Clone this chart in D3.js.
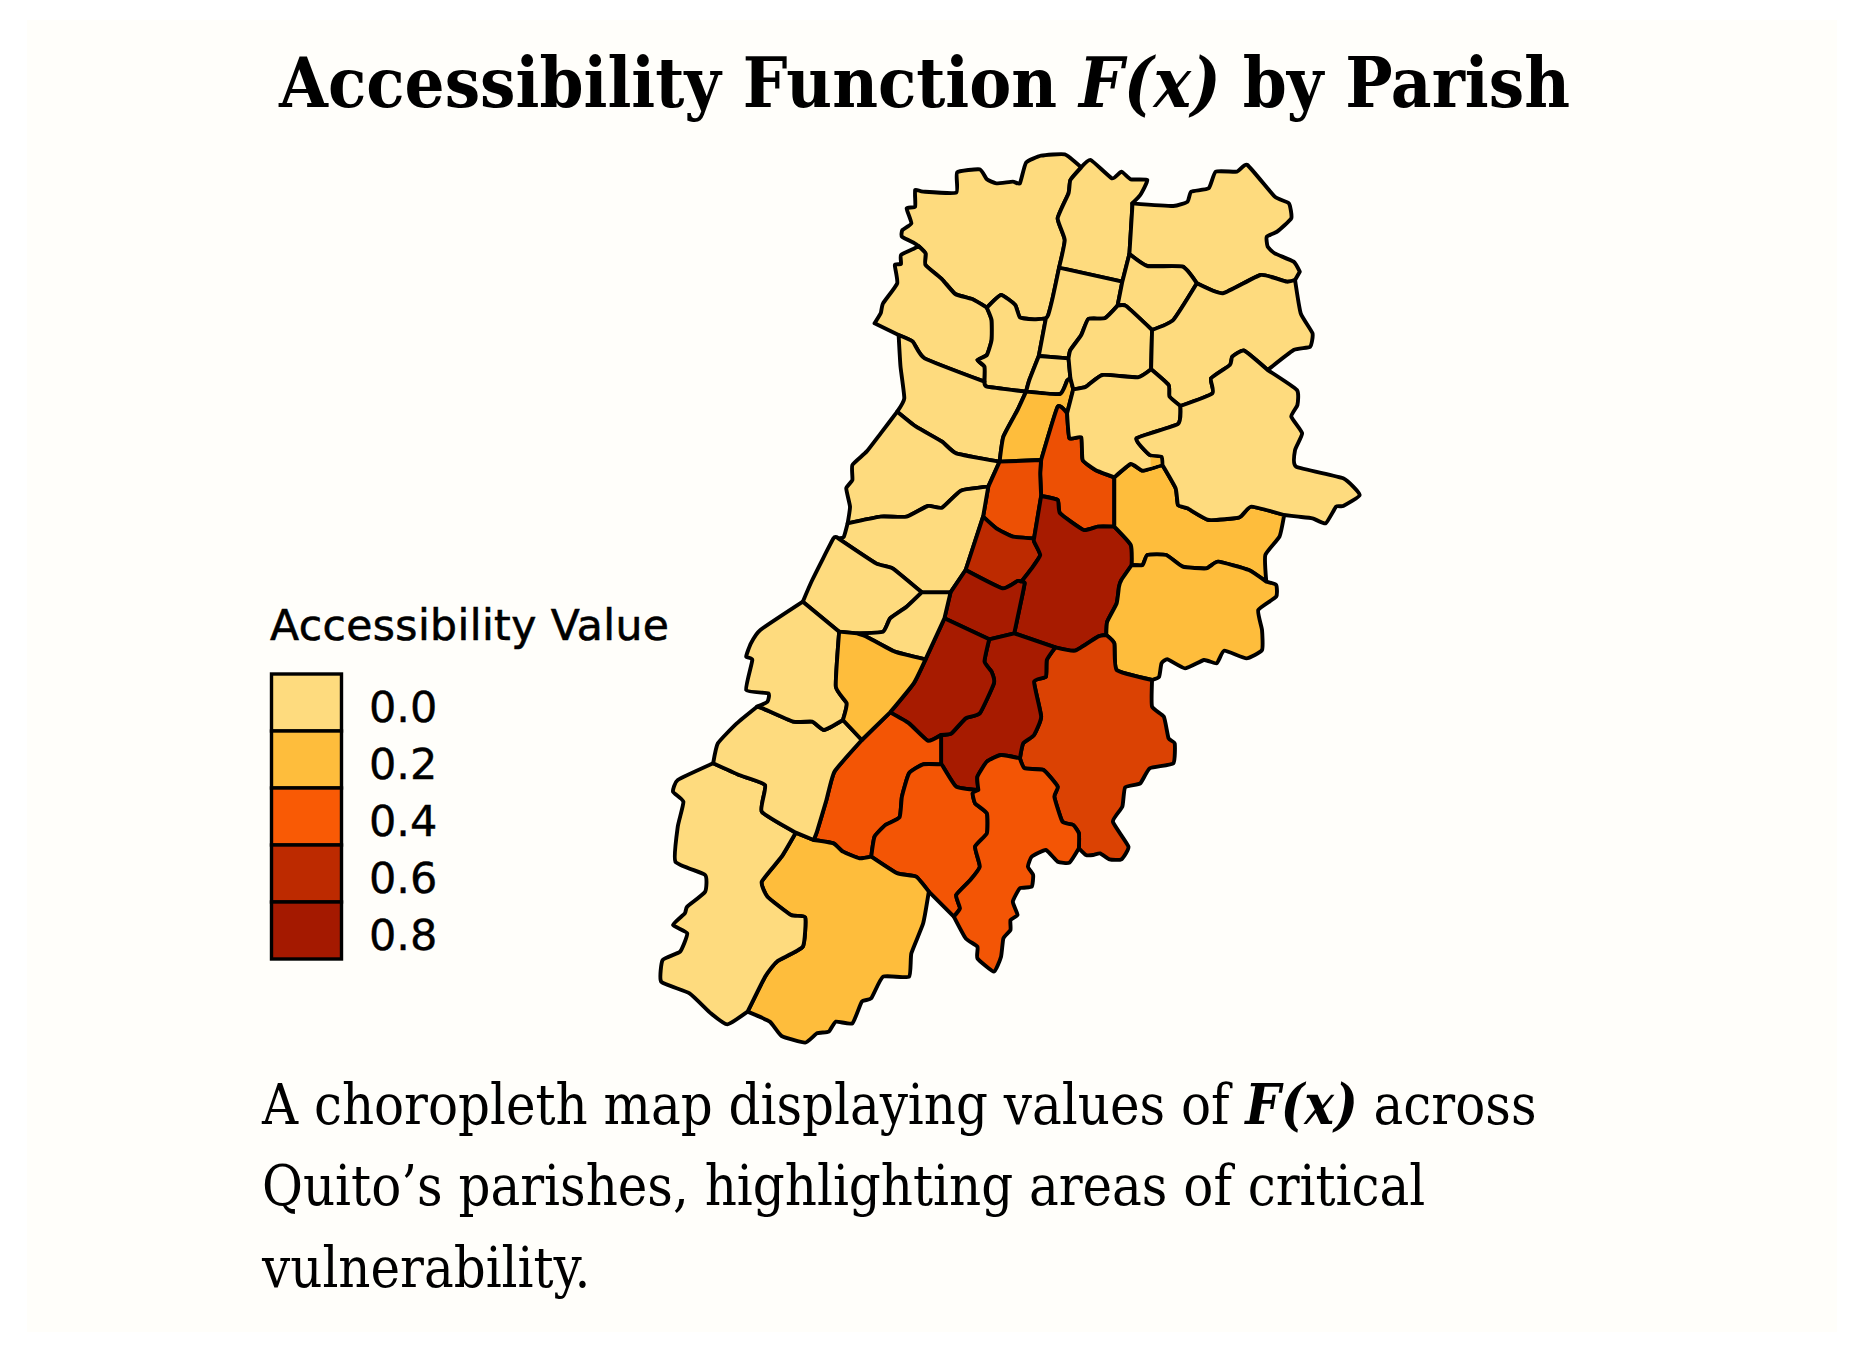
<!DOCTYPE html>
<html>
  <head>
    <meta charset="UTF-8" />
    <style>
      html, body { margin: 0; padding: 0; background: #ffffff; }
      svg { display: block; }
      .title { font-family: "DejaVu Serif Condensed", "DejaVu Serif"; font-weight: 700; font-size: 70px; }
      .note { font-family: "DejaVu Serif Condensed", "DejaVu Serif"; font-size: 55.5px; }
      .legend-title { font-family: "DejaVu Sans"; font-size: 42.5px; letter-spacing: 0.4px; stroke: #000; stroke-width: 0.6px; }
      .legend-label { font-family: "DejaVu Sans"; font-size: 43px; stroke: #000; stroke-width: 0.4px; }
    </style>
  </head>
  <body>
    <svg></svg>
    <script src="https://d3js.org/d3.v7.min.js"></script>
    <script>
      const width = 1866, height = 1360;

      const legendValues = [0, 0.2, 0.4, 0.6, 0.8];
      const legendLabels = ["0.0", "0.2", "0.4", "0.6", "0.8"];
      const legendColors = ["#fedb7e", "#febd3c", "#f95a05", "#bd2a00", "#a41900"];

      // parish boundaries, in map units, shared between neighbouring parishes
      const edges = {
        p1_top: [[590,318],[582,310],[555,290],[556,270],[575,250],[565,205],[583,200],[583,150],[600,155],[670,158],[672,97],[720,88],[735,118],[755,130],[790,125],[805,130],[818,68],[850,47],[900,43],[935,82]],
        p1_p3: [[935,82],[912,120],[908,160],[885,235],[900,300],[888,383]],
        p1_p6: [[888,383],[875,470],[865,525],[860,535]],
        p1_p4: [[860,535],[835,538],[805,532],[795,495],[765,465],[735,503]],
        p1_p2: [[735,503],[705,478],[668,462],[640,418],[605,375],[605,340],[590,318]],
        p2_west: [[590,318],[582,325],[553,345],[553,372],[540,375],[545,430],[515,490],[510,520],[497,550]],
        p2_free: [[497,550],[548,585]],
        p2_p5: [[548,585],[578,605],[603,655],[730,725]],
        p2_p4: [[730,725],[730,680],[715,660],[735,645],[745,600],[745,540],[735,503]],
        p4_p6: [[860,535],[845,648]],
        p4_p7: [[845,648],[825,720],[818,755]],
        p4_p5: [[818,755],[735,740],[730,725]],
        p3_top: [[935,82],[955,60],[1000,115],[1020,95],[1040,118],[1075,120],[1060,165],[1043,190]],
        p3_p30: [[1043,190],[1043,205],[1037,342]],
        p3_p31: [[1037,342],[1022,425]],
        p3_p6: [[1022,425],[888,383]],
        p6_p31: [[1022,425],[1012,497]],
        p6_p32: [[1012,497],[985,535],[950,537],[935,585],[912,630],[908,655]],
        p6_p7: [[908,655],[845,648]],
        p7_p32: [[908,655],[912,715]],
        p7_p8: [[912,715],[905,722],[890,762],[818,755]],
        p8_p32: [[912,715],[918,748]],
        p8_p34: [[918,748],[905,820]],
        p8_p9: [[905,820],[885,800],[850,960]],
        p8_p10: [[850,960],[762,965]],
        p8_p5: [[762,965],[770,890],[800,810],[818,755]],
        p5_west: [[548,585],[552,680],[560,775],[545,815]],
        p5_p28: [[545,815],[585,860],[640,905],[670,940],[762,965]],
        p9_p34: [[905,820],[910,895],[935,892],[938,960],[965,990],[1005,1012]],
        p9_p14: [[1005,1012],[1005,1160]],
        p9_p12: [[1005,1160],[970,1160],[940,1170],[890,1120],[885,1080],[850,1068]],
        p9_p10: [[850,1068],[848,1000],[850,960]],
        p10_p12: [[850,1068],[835,1195]],
        p10_p11: [[835,1195],[790,1190],[755,1165],[727,1130]],
        p10_p27: [[727,1130],[738,1040]],
        p10_p28: [[738,1040],[762,965]],
        p28_west: [[545,815],[510,880],[480,935],[450,975],[450,1020],[437,1045],[445,1100],[440,1150]],
        p28_p27: [[440,1150],[510,1130],[565,1130],[610,1098],[640,1103],[680,1052],[738,1040]],
        p27_west: [[440,1150],[432,1190],[420,1195]],
        p27_p26: [[420,1195],[500,1270],[535,1285],[597,1357]],
        p27_p29: [[597,1357],[658,1357]],
        p27_p13: [[658,1357],[690,1290]],
        p27_p11: [[690,1290],[727,1130]],
        p11_p12: [[835,1195],[835,1205],[848,1245],[830,1285],[808,1325]],
        p11_p13: [[808,1325],[800,1323],[768,1345],[690,1290]],
        p13_p12: [[808,1325],[815,1330],[805,1400],[793,1480]],
        p13_p17: [[793,1480],[740,1498]],
        p13_p13b: [[740,1498],[645,1435]],
        p13_p29: [[645,1435],[658,1357]],
        p12_p14: [[1005,1160],[1040,1215],[1042,1275]],
        p12_p15: [[1042,1275],[1020,1320],[1015,1340],[1010,1390],[990,1445],[988,1485]],
        p12_p16: [[988,1485],[970,1490],[922,1532],[880,1522]],
        p12_p17: [[880,1522],[793,1480]],
        p14_p34: [[1005,1012],[1040,972],[1065,992],[1107,975]],
        p14_p35: [[1107,975],[1135,1045],[1140,1095],[1160,1105],[1205,1140],[1270,1132],[1295,1100],[1365,1125]],
        p14_east: [[1365,1125],[1355,1190],[1325,1245],[1327,1325]],
        p14_p15: [[1327,1325],[1290,1290],[1225,1265],[1200,1285],[1150,1280],[1115,1245],[1075,1245],[1065,1275],[1042,1275]],
        p15_east: [[1327,1325],[1348,1335],[1348,1370],[1310,1410],[1318,1470],[1318,1530],[1285,1555],[1238,1532],[1222,1570],[1195,1560],[1155,1585],[1118,1558],[1105,1570],[1100,1610],[1085,1620]],
        p15_p16: [[1085,1620],[1010,1590],[1005,1510],[988,1485]],
        p16_east: [[1085,1620],[1085,1700],[1110,1730],[1120,1795],[1133,1810],[1130,1870],[1080,1885],[1060,1930],[1028,1942],[1022,2000],[1002,2045],[1035,2120],[1020,2158],[995,2158],[975,2140],[960,2145],[945,2145],[930,2125]],
        p16_p20: [[930,2125],[930,2080],[918,2055],[895,2045],[878,1970],[885,1940],[855,1890],[815,1885],[805,1855]],
        p16_p17: [[805,1855],[812,1810],[835,1785],[850,1730],[835,1625],[860,1610],[862,1560],[880,1522]],
        p17_p20: [[805,1855],[765,1845],[735,1865],[715,1910],[717,1950]],
        p17_p19: [[717,1950],[670,1940],[640,1875],[638,1873]],
        p17_p18: [[638,1873],[638,1785]],
        p17_p13b: [[638,1785],[660,1780],[690,1735],[720,1720],[750,1630],[745,1595],[730,1565],[740,1498]],
        p13b_p18: [[638,1785],[610,1802],[570,1750],[530,1717]],
        p13b_p25: [[530,1717],[580,1630],[605,1558]],
        p13b_p29: [[605,1558],[645,1435]],
        p29_p25: [[605,1558],[540,1535],[480,1490],[460,1480]],
        p29_p26: [[460,1480],[515,1475],[530,1435],[565,1400],[597,1357]],
        p26_west: [[345,1385],[365,1320],[410,1195],[420,1195]],
        p26_p25: [[460,1480],[422,1475]],
        p26_p24: [[422,1475],[345,1385]],
        p25_p18: [[530,1717],[470,1800]],
        p25_p23: [[470,1800],[430,1740]],
        p25_p24: [[430,1740],[438,1690],[415,1640],[422,1475]],
        p24_west: [[345,1385],[255,1470],[235,1510],[225,1550],[238,1560],[225,1650],[272,1660],[270,1685],[248,1700]],
        p24_p23: [[248,1700],[260,1705],[325,1745],[365,1745],[390,1770],[430,1740]],
        p23_west: [[248,1700],[205,1750],[165,1810],[155,1870]],
        p23_p22: [[155,1870],[210,1905],[265,1935],[258,2015],[330,2078]],
        p23_p21: [[330,2078],[368,2100]],
        p23_p18: [[368,2100],[375,2075],[395,1980],[412,1895],[470,1800]],
        p18_bottom: [[368,2100],[410,2110],[430,2135],[465,2155],[490,2150]],
        p18_p19: [[490,2150],[497,2090],[520,2055],[550,2032],[555,1970],[570,1900],[600,1873],[638,1873]],
        p19_p20: [[717,1950],[705,1960],[710,1990],[735,2020],[735,2080],[710,2120],[720,2180],[700,2220],[670,2265],[678,2305],[665,2330]],
        p19_south: [[665,2330],[612,2255]],
        p19_p21: [[612,2255],[585,2210],[545,2200],[490,2150]],
        p20_south: [[930,2125],[910,2168],[885,2165],[860,2130],[830,2150],[822,2180],[833,2205],[830,2240],[805,2245],[790,2285],[800,2325],[785,2340],[785,2370],[770,2395],[765,2450],[750,2495],[715,2455],[715,2420],[690,2395],[665,2330]],
        p21_east: [[612,2255],[600,2350],[575,2440],[570,2510],[515,2510],[490,2575],[470,2585],[450,2650],[415,2645],[400,2675],[375,2680],[350,2708],[300,2688],[275,2645],[228,2615]],
        p21_p22: [[228,2615],[265,2510],[290,2465],[345,2420],[350,2332],[320,2325],[270,2270],[258,2225],[300,2150],[330,2078]],
        p22_west: [[155,1870],[80,1920],[70,1955],[92,1985],[80,2060],[75,2165],[138,2205],[138,2255],[100,2300],[95,2320],[70,2355],[100,2380],[85,2435],[48,2460],[45,2525],[105,2560],[150,2620],[185,2653],[228,2615]],
        p30_top: [[1043,190],[1130,198],[1160,185],[1168,155],[1205,145],[1220,95],[1265,95],[1287,75],[1345,170],[1375,190],[1380,235],[1350,275],[1328,290],[1330,320],[1345,340],[1385,365],[1398,395]],
        p30_east: [[1398,395],[1388,420]],
        p30_p33: [[1388,420],[1370,425],[1315,405],[1235,460],[1180,430]],
        p30_p31: [[1180,430],[1150,380],[1075,378],[1037,342]],
        p31_p33: [[1180,430],[1130,540],[1085,570]],
        p31_p32: [[1085,570],[1030,498],[1012,497]],
        p32_p33: [[1085,570],[1083,688]],
        p32_p34: [[1083,688],[1055,712],[980,705],[945,740],[918,748]],
        p33_east: [[1388,420],[1400,520],[1425,580],[1420,620],[1385,630],[1330,690]],
        p33_p35: [[1330,690],[1280,632],[1255,650],[1250,675],[1210,715],[1213,760],[1145,798]],
        p33_p34: [[1145,798],[1122,770],[1120,735],[1083,688]],
        p34_p35: [[1145,798],[1140,852],[1052,895],[1080,945],[1105,950],[1107,975]],
        p35_east: [[1330,690],[1392,750],[1393,795],[1380,830],[1403,880],[1388,930],[1390,980],[1490,1015],[1525,1065],[1490,1098],[1475,1100],[1453,1150],[1425,1135],[1395,1130],[1365,1125]],
      };

      const parishValues = [0, 0, 0, 0, 0, 0, 0, 0.2, 0, 0.44, 0.44, 0, 0, 0.6, 0.78, 0.78, 0.2, 0.2, 0.5, 0.78, 0.78, 0.42, 0.42, 0.42, 0.2, 0, 0, 0, 0, 0.2, 0, 0, 0, 0, 0, 0];

      // each ring lists its edges in order, "-" means walk the edge backwards
      const parishRings = [
        ["p1_top", "p1_p3", "p1_p6", "p1_p4", "p1_p2"],
        ["p2_west", "p2_free", "p2_p5", "p2_p4", "p1_p2"],
        ["p3_top", "p3_p30", "p3_p31", "p3_p6", "-p1_p3"],
        ["-p1_p4", "p4_p6", "p4_p7", "p4_p5", "p2_p4"],
        ["p5_west", "p5_p28", "p8_p5", "p4_p5", "-p2_p5"],
        ["-p3_p6", "p6_p31", "p6_p32", "p6_p7", "-p4_p6", "-p1_p6"],
        ["-p6_p7", "p7_p32", "p7_p8", "-p4_p7"],
        ["-p7_p8", "p8_p32", "p8_p34", "p8_p9", "p8_p10", "p8_p5"],
        ["p28_west", "p28_p27", "p10_p28", "-p5_p28"],
        ["p9_p34", "p9_p14", "p9_p12", "p9_p10", "-p8_p9"],
        ["-p8_p10", "-p9_p10", "p10_p12", "p10_p11", "p10_p27", "p10_p28"],
        ["p27_west", "p27_p26", "p27_p29", "p27_p13", "p27_p11", "p10_p27", "-p28_p27"],
        ["p26_west", "p27_p26", "-p29_p26", "p26_p25", "p26_p24"],
        ["-p10_p11", "p11_p12", "p11_p13", "p27_p11"],
        ["-p9_p12", "p12_p14", "p12_p15", "p12_p16", "p12_p17", "-p13_p12", "-p11_p12", "-p10_p12"],
        ["-p11_p13", "p13_p12", "p13_p17", "p13_p13b", "p13_p29", "p27_p13"],
        ["p14_p34", "p14_p35", "p14_east", "p14_p15", "-p12_p14", "-p9_p14"],
        ["-p14_p15", "p15_east", "p15_p16", "-p12_p15"],
        ["-p15_p16", "p16_east", "p16_p20", "p16_p17", "-p12_p16"],
        ["-p13_p17", "-p12_p17", "-p16_p17", "p17_p20", "p17_p19", "p17_p18", "p17_p13b"],
        ["-p13_p13b", "-p17_p13b", "p13b_p18", "p13b_p25", "p13b_p29"],
        ["-p13b_p18", "-p17_p18", "-p18_p19", "-p18_bottom", "p23_p18", "-p25_p18"],
        ["-p17_p19", "p19_p20", "p19_south", "p19_p21", "p18_p19"],
        ["-p16_p20", "p20_south", "-p19_p20", "-p17_p20"],
        ["p23_p21", "p18_bottom", "-p19_p21", "p21_east", "p21_p22"],
        ["p22_west", "p21_p22", "-p23_p22"],
        ["p23_west", "p23_p22", "p23_p21", "p23_p18", "p25_p23", "-p24_p23"],
        ["p24_west", "p24_p23", "p25_p24", "p26_p24"],
        ["p27_p29", "-p13_p29", "-p13b_p29", "p29_p25", "p29_p26"],
        ["-p26_p25", "-p29_p25", "-p13b_p25", "p25_p18", "p25_p23", "p25_p24"],
        ["p30_top", "p30_east", "p30_p33", "p30_p31", "-p3_p30"],
        ["-p30_p31", "p31_p33", "p31_p32", "-p6_p31", "-p3_p31"],
        ["-p31_p32", "p32_p33", "p32_p34", "-p8_p32", "-p7_p32", "-p6_p32"],
        ["-p31_p33", "-p30_p33", "p33_east", "p33_p35", "p33_p34", "-p32_p33"],
        ["-p32_p34", "-p33_p34", "p34_p35", "-p14_p34", "-p9_p34", "-p8_p34"],
        ["-p33_p35", "p35_east", "-p14_p35", "-p34_p35"],
      ];

      // the little unlined bit of 0.2 left inside the parish above it
      const patchRing = [[1082,952],[1102,955],[1103,972],[1082,980]];
      const patchValue = 0.2;

      const svg = d3.select("svg").attr("width", width).attr("height", height);

      svg.append("rect").attr("width", width).attr("height", height).attr("fill", "#ffffff");
      svg.append("rect")
        .attr("x", 27).attr("y", 20)
        .attr("width", 1810).attr("height", 1312)
        .attr("fill", "#fffefa");

      // map
      const x = d3.scaleLinear().domain([0, 1568]).range([640, 1380]);
      const y = d3.scaleLinear().domain([0, 2760]).range([140, 1060]);
      const color = d3.scaleLinear().domain(legendValues).range(legendColors);
      const line = d3.line().x((d) => x(d[0])).y((d) => y(d[1]));
      const edgeLine = d3.line().x((d) => x(d[0])).y((d) => y(d[1])).curve(d3.curveCardinal.tension(0.55));

      // every edge gets its own curve, so neighbours share the exact same border
      const ringPath = function (ring) {
        const parts = ring.map((name) => {
          const back = name[0] == "-";
          const edge = edges[back ? name.slice(1) : name];
          return edgeLine(back ? edge.slice().reverse() : edge);
        });
        return parts.join("").replace(/M/g, "L").replace("L", "M") + "Z";
      };

      svg.append("g")
        .selectAll("path")
        .data(parishRings)
        .enter()
        .append("path")
        .attr("d", ringPath)
        .attr("fill", (d, i) => color(parishValues[i]))
        .attr("stroke", "#000")
        .attr("stroke-width", 3.9)
        .attr("stroke-linejoin", "round");

      svg.append("path")
        .attr("d", line(patchRing) + "Z")
        .attr("fill", color(patchValue));

      // legend
      const legendY = d3.scaleBand().domain(legendValues).range([674, 959]);
      const legend = svg.append("g");
      legend.selectAll("rect")
        .data(legendValues)
        .enter()
        .append("rect")
        .attr("x", 271.5)
        .attr("y", (d) => legendY(d))
        .attr("width", 70)
        .attr("height", legendY.bandwidth())
        .attr("fill", (d) => color(d))
        .attr("stroke", "#000")
        .attr("stroke-width", 3.4);
      legend.selectAll("text")
        .data(legendValues)
        .enter()
        .append("text")
        .attr("class", "legend-label")
        .attr("x", 369)
        .attr("y", (d) => legendY(d) + legendY.bandwidth() - 9)
        .text((d, i) => legendLabels[i]);
      svg.append("text")
        .attr("class", "legend-title")
        .attr("x", 270).attr("y", 640)
        .text("Accessibility Value");

      // title and caption, with the F(x) runs set apart
      const writeRuns = function (cls, xPos, yPos, runs) {
        const t = svg.append("text").attr("class", cls).attr("x", xPos).attr("y", yPos);
        runs.forEach((r) => {
          t.append("tspan")
            .attr("font-style", r[1] ? "italic" : "normal")
            .attr("font-weight", r[2] ? 700 : null)
            .text(r[0]);
        });
      };

      writeRuns("title", 279, 107, [["Accessibility Function ", false], ["F(x)", true], [" by Parish", false]]);
      writeRuns("note", 262, 1124, [["A choropleth map displaying values of ", false], ["F(x)", true, true], [" across", false]]);
      writeRuns("note", 262, 1205, [["Quito’s parishes, highlighting areas of critical", false]]);
      writeRuns("note", 262, 1287, [["vulnerability.", false]]);
    </script>
  </body>
</html>
